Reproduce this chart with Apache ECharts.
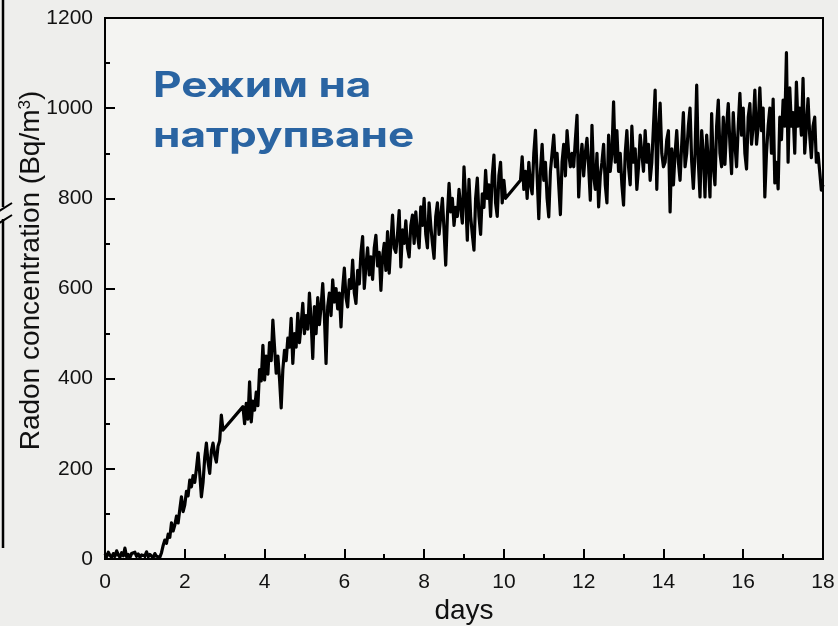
<!DOCTYPE html>
<html>
<head>
<meta charset="utf-8">
<title>Radon concentration</title>
<script src="https://cdn.jsdelivr.net/npm/echarts@6.0.0/dist/echarts.min.js"></script>
<style>
  html, body { margin: 0; padding: 0; background: #eeeeec; }
  #chart { width: 838px; height: 626px; }
</style>
</head>
<body>
<div id="chart"></div>
<script>
// Hourly radon readings, split into the three recorded runs (start hour + values, Bq/m3)
const run1Start = 0;
const run1Values = [
  12, 5, 15, 8, 3, 12, 6, 18, 9, 4, 14, 7, 24, 5, 10, 3, 12, 8, 15, 6,
  11, 4, 9, 13, 7, 16, 5, 10, 8, 3, 12, 6, 9, 4, 14,
  30, 42, 35, 55, 48, 80, 62, 75, 95, 80, 110, 138, 105, 120, 150,
  140, 175, 160, 185, 170, 200, 235, 190, 138, 170, 225, 257, 215, 190, 240,
  257, 230, 215, 250, 262, 319, 286
];

const run2Start = 83;
const run2Values = [
  338, 300, 345, 310, 393, 304, 350, 330, 370, 340,
  420, 395, 474, 397, 450, 410, 480, 440, 530, 470,
  412, 450, 400, 335, 420, 463, 440, 490, 470, 534,
  434, 500, 470, 545, 480, 520, 567, 500, 540, 510,
  590, 530, 445, 560, 500, 580, 520, 560, 611, 540,
  434, 560, 590, 540, 619, 570, 600, 555, 590, 515,
  600, 645, 580, 559, 620, 600, 663, 590, 567, 640,
  610, 680, 715, 600, 650, 690, 630, 670, 620, 690,
  718, 650, 680, 596, 670, 700, 640, 726, 634, 700,
  763, 690, 680, 720, 773, 648, 730, 700, 750, 690,
  670, 740, 763, 700, 770, 720, 690, 781, 740, 800,
  720, 690, 790, 740, 700, 667, 760, 790, 720, 760,
  800, 730, 652, 760, 833, 770, 800, 740, 780, 760,
  820, 780, 745, 870, 800, 707, 842, 760, 720, 685,
  800, 845, 760, 720, 810, 780, 862, 800, 830, 760,
  850, 896, 790, 760, 850, 880, 790, 840, 800
];

const run3Start = 250;
const run3Values = [
  840, 892, 820, 860, 800, 880, 830, 810, 900, 951,
  850, 755, 860, 920, 840, 880, 800, 759, 860, 900,
  940, 870, 900, 830, 764, 880, 920, 850, 950, 900,
  870, 900, 870, 930, 984, 803, 880, 920, 850, 900,
  933, 870, 796, 962, 850, 820, 900, 781, 850, 880,
  920, 830, 790, 940, 860, 900, 1014, 880, 950, 860,
  900, 830, 785, 900, 950, 870, 830, 960, 880, 910,
  820, 870, 940, 900, 860, 950, 880, 920, 840, 880,
  960, 1040, 820, 950, 1011, 900, 870, 880, 930, 950,
  770, 910, 830, 900, 950, 880, 840, 920, 990, 870,
  900, 960, 1000, 880, 822, 900, 1051, 880, 803, 950,
  900, 803, 940, 880, 803, 988, 870, 830, 960, 1018,
  900, 870, 980, 875, 960, 1010, 920, 855, 990, 920,
  870, 960, 1033, 940, 1000, 900, 865, 980, 1010, 920,
  960, 1040, 920, 960, 1045, 950, 1000, 803, 900, 960,
  1000, 900, 1020, 834, 880, 821, 980, 930, 1018, 960,
  1123, 880, 1045, 960, 990, 900, 1058, 960, 1000, 940,
  1066, 900, 960, 1021, 940, 890, 960, 980, 880, 900,
  860, 818, 830
];

const xTicks = { min: 0, max: 18, interval: 2 };
const yTicks = { min: 0, max: 1200, interval: 200 };
const titleLines = ['Режим на', 'натрупване'];

// Convert (start hour, readings) into [day, value] pairs
function toPoints(startHour, values) {
  return values.map((v, i) => [(startHour + i) / 24, v]);
}
const seriesData = []
  .concat(toPoints(run1Start, run1Values))
  .concat(toPoints(run2Start, run2Values))
  .concat(toPoints(run3Start, run3Values));

const FONT = '"Liberation Sans", Arial, sans-serif';
const TITLE_FONT = 'bold 35px Inter, "Noto Sans", sans-serif';
const chart = echarts.init(document.getElementById('chart'), null, { renderer: 'canvas' });

chart.setOption({
  backgroundColor: '#eeeeec',
  animation: false,
  grid: {
    left: 105, right: 15, top: 18, bottom: 67,
    containLabel: false, outerBoundsMode: 'none',
    show: true, backgroundColor: '#f4f4f2',
    borderColor: '#000', borderWidth: 2
  },
  xAxis: {
    type: 'value',
    min: xTicks.min, max: xTicks.max, interval: xTicks.interval,
    name: 'days', nameLocation: 'middle', nameGap: 38, nameMoveOverlap: false,
    nameTextStyle: { fontFamily: FONT, fontSize: 28, color: '#111' },
    axisLine: { lineStyle: { color: '#000', width: 2 } },
    axisTick: { inside: true, length: 10, lineStyle: { color: '#000', width: 2 } },
    minorTick: { show: true, splitNumber: 2, length: 5, lineStyle: { color: '#000', width: 2 } },
    axisLabel: { fontFamily: FONT, fontSize: 21, color: '#111', margin: 13, formatter: v => String(v) },
    splitLine: { show: false }
  },
  yAxis: {
    type: 'value',
    min: yTicks.min, max: yTicks.max, interval: yTicks.interval,
    name: 'Radon concentration (Bq/m{sup|3})', nameLocation: 'middle', nameGap: 60, nameMoveOverlap: false,
    nameTextStyle: {
      fontFamily: FONT, fontSize: 28, color: '#111', padding: [0, 0, 0, 36],
      rich: { sup: { fontFamily: FONT, fontSize: 17, color: '#111', verticalAlign: 'top', padding: [0, 0, 11, 0] } }
    },
    axisLine: { show: true, lineStyle: { color: '#000', width: 2 } },
    axisTick: { show: true, inside: true, length: 10, lineStyle: { color: '#000', width: 2 } },
    minorTick: { show: true, splitNumber: 2, length: 5, lineStyle: { color: '#000', width: 2 } },
    axisLabel: { fontFamily: FONT, fontSize: 21, color: '#111', margin: 12, formatter: v => String(v) },
    splitLine: { show: false }
  },
  series: [{
    type: 'line',
    data: seriesData,
    showSymbol: false,
    symbol: 'none',
    lineStyle: { color: '#000', width: 3.2, join: 'round' },
    z: 3
  }],
  graphic: [
    // axis of the neighbouring panel, with its break mark
    { type: 'line', shape: { x1: 3, y1: 0, x2: 3, y2: 207 }, style: { stroke: '#000', lineWidth: 2.5 } },
    { type: 'line', shape: { x1: 3, y1: 219, x2: 3, y2: 548 }, style: { stroke: '#000', lineWidth: 2.5 } },
    { type: 'line', shape: { x1: -4, y1: 213, x2: 12, y2: 203 }, style: { stroke: '#000', lineWidth: 2 } },
    { type: 'line', shape: { x1: -4, y1: 225, x2: 12, y2: 215 }, style: { stroke: '#000', lineWidth: 2 } },
    {
      type: 'text', x: 153, y: 86, scaleX: 1.26, z: 10,
      style: { text: titleLines[0], fill: '#2a64a2', font: TITLE_FONT, verticalAlign: 'middle' }
    },
    {
      type: 'text', x: 153, y: 136, scaleX: 1.26, z: 10,
      style: { text: titleLines[1], fill: '#2a64a2', font: TITLE_FONT, verticalAlign: 'middle' }
    }
  ]
});
</script>
</body>
</html>
